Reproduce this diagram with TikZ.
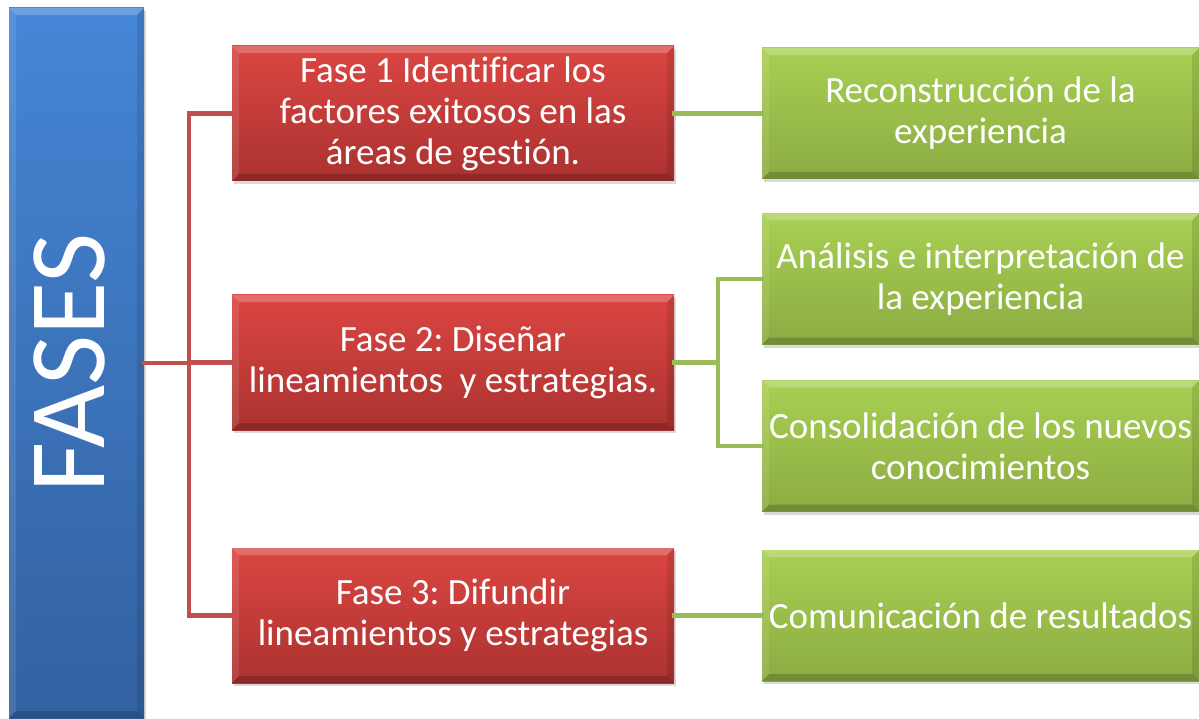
\documentclass[tikz,border=0pt]{standalone}
\usepackage{fontspec}
\setmainfont{Carlito}[Ligatures=CommonOff]
\usetikzlibrary{shadows}
\frenchspacing

\definecolor{rojoA}{HTML}{DB4642}
\definecolor{rojoB}{HTML}{AB3230}
\definecolor{verdeA}{HTML}{A8D053}
\definecolor{verdeB}{HTML}{8CAB42}
\definecolor{azulA}{HTML}{4586D6}
\definecolor{azulB}{HTML}{3361A0}
\definecolor{lineaR}{HTML}{C0504D}
\definecolor{lineaV}{HTML}{9BBB59}

\begin{document}
\begin{tikzpicture} [x=1pt,y=-1pt,
  bisel/.style={path picture={
    \coordinate (nw) at (path picture bounding box.north west);
    \coordinate (ne) at (path picture bounding box.north east);
    \coordinate (sw) at (path picture bounding box.south west);
    \coordinate (se) at (path picture bounding box.south east);
    \fill[white,opacity=.22] (nw) -- (ne) -- ([shift={(-7pt,-7pt)}]ne) -- ([shift={(7pt,-7pt)}]nw) -- cycle;
    \fill[white,opacity=.10] (nw) -- (sw) -- ([shift={(7pt,7pt)}]sw) -- ([shift={(7pt,-7pt)}]nw) -- cycle;
    \fill[black,opacity=.18] (sw) -- (se) -- ([shift={(-7pt,7pt)}]se) -- ([shift={(7pt,7pt)}]sw) -- cycle;
    \fill[black,opacity=.10] (ne) -- (se) -- ([shift={(-7pt,7pt)}]se) -- ([shift={(-7pt,-7pt)}]ne) -- cycle;}},
  caja/.style={draw=none,text=white,align=center,inner sep=0pt,bisel,
    font=\fontsize{37}{41}\selectfont,
    drop shadow={shadow xshift=2pt,shadow yshift=-3pt,opacity=.3}},
  fase/.style={caja,top color=rojoA,bottom color=rojoB,
    minimum width=442pt,minimum height=135pt},
  paso/.style={caja,top color=verdeA,bottom color=verdeB,
    minimum width=437pt,minimum height=131pt},
  rama/.style={line width=4.5pt,line cap=rect}]

\useasboundingbox (0,0) rectangle (1199,719);

% columna azul
\node[caja,top color=azulA,bottom color=azulB,
  minimum width=135pt,minimum height=710pt] (fases) at (76.5,363) {};
\node[text=white,rotate=90,inner sep=0pt,font=\fontsize{109}{109}\selectfont]
  (fasestxt) at (70,363) {FASES};

% fases (rojo)
\node[fase] (fase1) at (453,113.5) {Fase 1 Identificar los\\factores exitosos en las\\áreas de gestión.};
\node[fase] (fase2) at (453,362.5) {Fase 2: Diseñar\\lineamientos~ y estrategias.};
\node[fase] (fase3) at (453,615.5) {Fase 3: Difundir\\lineamientos y estrategias};

% pasos (verde)
\node[paso] (paso1) at (980.5,113.5) {Reconstrucción de la\\experiencia};
\node[paso] (paso2) at (980.5,279) {Análisis e interpretación de\\la experiencia};
\node[paso] (paso3) at (980.5,446) {Consolidación de los nuevos\\conocimientos};
\node[paso] (paso4) at (980.5,615.5) {Comunicación de resultados};

% ramas
\coordinate (corteR) at (189,363);
\coordinate (corteV) at (718,362.5);
\draw[rama,lineaR] (fases.east) -- (corteR);
\foreach \f in {fase1,fase2,fase3}
  \draw[rama,lineaR] (corteR) |- (\f.west);
\draw[rama,lineaV] (fase1.east) -- (paso1.west);
\draw[rama,lineaV] (fase2.east) -- (corteV);
\draw[rama,lineaV] (corteV) |- (paso2.west);
\draw[rama,lineaV] (corteV) |- (paso3.west);
\draw[rama,lineaV] (fase3.east) -- (paso4.west);
\end{tikzpicture}
\end{document}
